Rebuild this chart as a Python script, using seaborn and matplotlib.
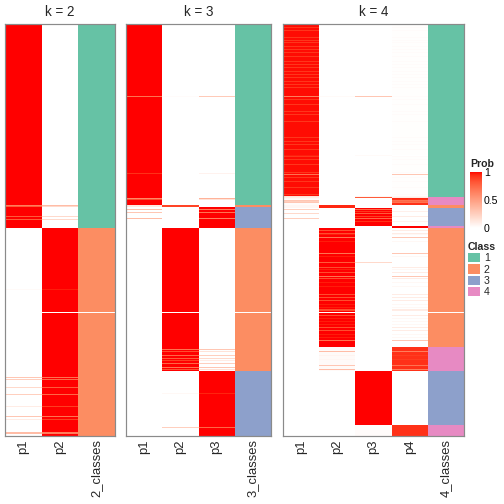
import numpy as np
import pandas as pd
import matplotlib
matplotlib.use("Agg")
import matplotlib.pyplot as plt
import seaborn as sns
from matplotlib.colors import ListedColormap
from matplotlib.patches import Patch

# ---------------- data ----------------
N_ROWS = 412
GAP_ROW = 288
k_values = [2, 3, 4]
class_labels = ["1", "2", "3", "4"]
class_colors = ["#66C2A5", "#FC8D62", "#8DA0CB", "#E78AC3"]

# runs: (rows, class, membership probabilities p1..pk)
k2_runs = [(204, 1, [1.0, 0.0]), (208, 2, [0.0, 1.0])]
k2_stripes = [(181, [0.65, 0.35]), (182, [0.8, 0.2]), (192, [0.8, 0.2]), (195, [0.8, 0.2]),
              (265, [0.03, 0.97]), (353, [0.3, 0.7]), (355, [0.25, 0.75]), (363, [0.2, 0.8]),
              (370, [0.25, 0.75]), (382, [0.1, 0.9]), (392, [0.3, 0.7]), (395, [0.1, 0.9]),
              (408, [0.35, 0.65]), (409, [0.35, 0.65])]

k3_runs = [(181, 1, [1.0, 0.0, 0.0]), (2, 2, [0.12, 0.88, 0.0]), (21, 3, [0.0, 0.0, 1.0]),
           (143, 2, [0.0, 1.0, 0.0]), (65, 3, [0.0, 0.0, 1.0])]
k3_stripes = [(72, [0.7, 0.02, 0.28]), (149, [0.93, 0.0, 0.07]), (174, [0.6, 0.0, 0.4]),
              (175, [0.85, 0.0, 0.15]), (185, [0.35, 0.0, 0.65]), (188, [0.3, 0.0, 0.7]),
              (194, [0.35, 0.0, 0.65]), (325, [0.0, 0.7, 0.3]), (327, [0.0, 0.85, 0.15]),
              (331, [0.0, 0.75, 0.25]), (334, [0.0, 0.8, 0.2]), (336, [0.0, 0.9, 0.1]),
              (339, [0.0, 0.75, 0.25]), (343, [0.0, 0.7, 0.3]), (345, [0.0, 0.85, 0.15]),
              (369, [0.0, 0.04, 0.96]), (403, [0.0, 0.25, 0.75])]

k4_runs = [(173, 1, [0.99, 0.0, 0.0, 0.01]), (8, 4, [0.02, 0.0, 0.0, 0.93]),
           (3, 2, [0.05, 0.95, 0.0, 0.0]), (18, 3, [0.0, 0.0, 1.0, 0.0]),
           (2, 4, [0.0, 0.0, 0.0, 1.0]), (119, 2, [0.0, 1.0, 0.0, 0.0]),
           (24, 4, [0.0, 0.03, 0.0, 0.93]), (54, 3, [0.0, 0.0, 1.0, 0.0]),
           (11, 4, [0.0, 0.0, 0.02, 0.93])]
k4_p1_soft_rows = [3, 6, 13, 16, 18, 22, 25, 28, 32, 37, 40, 43, 47, 50, 53, 57, 60, 63, 75,
                   80, 87, 90, 97, 113, 117, 120, 125, 132, 135, 140, 148, 153, 157, 163, 170]
k4_p1_soft = [0.92, 0.0, 0.0, 0.02]
k4_p2_soft_rows = [206, 209, 238, 243, 248, 254, 270, 273, 276, 285, 286, 291, 303, 306]
k4_p2_soft = [0.0, 0.85, 0.0, 0.1]
k4_p4_faint_rows = [210, 217, 232, 245, 258, 262, 280, 283, 294, 297, 300, 310, 313]
k4_p4_faint = [0.0, 0.97, 0.0, 0.04]
k4_stripes = [(72, [0.65, 0.03, 0.3, 0.02]), (131, [0.97, 0.0, 0.03, 0.0]),
              (150, [0.7, 0.0, 0.0, 0.3]), (172, [0.15, 0.0, 0.05, 0.05]),
              (173, [0.1, 0.0, 0.8, 0.1]), (174, [0.05, 0.0, 0.0, 0.95]),
              (176, [0.3, 0.0, 0.0, 0.7]), (177, [0.25, 0.0, 0.0, 0.75]),
              (178, [0.3, 0.0, 0.0, 0.7]), (185, [0.25, 0.0, 0.75, 0.0]),
              (187, [0.0, 0.0, 0.92, 0.08]), (189, [0.2, 0.0, 0.8, 0.0]),
              (192, [0.0, 0.0, 0.9, 0.1]), (194, [0.25, 0.0, 0.75, 0.0]),
              (197, [0.0, 0.0, 0.93, 0.07]), (213, [0.0, 0.7, 0.0, 0.3]),
              (229, [0.0, 0.7, 0.0, 0.3]), (238, [0.0, 0.8, 0.2, 0.0]),
              (252, [0.0, 0.7, 0.0, 0.3]), (316, [0.0, 0.7, 0.0, 0.3]),
              (327, [0.0, 0.35, 0.0, 0.65]), (331, [0.0, 0.06, 0.0, 0.9]),
              (335, [0.0, 0.05, 0.0, 0.9]), (341, [0.0, 0.3, 0.0, 0.7]),
              (345, [0.0, 0.35, 0.0, 0.65])]

panels = {
    2: dict(runs=k2_runs, stripes=k2_stripes, soft=[]),
    3: dict(runs=k3_runs, stripes=k3_stripes, soft=[]),
    4: dict(runs=k4_runs, stripes=k4_stripes,
            soft=[(k4_p1_soft_rows, k4_p1_soft), (k4_p2_soft_rows, k4_p2_soft),
                  (k4_p4_faint_rows, k4_p4_faint)]),
}


def build(runs, stripes, soft):
    probs, classes = [], []
    for n, cls, p in runs:
        probs += [list(p)] * n
        classes += [cls] * n
    probs = np.array(probs, dtype=float)
    classes = np.array(classes, dtype=float)
    for rows, vals in soft:
        for r in rows:
            probs[r] = vals
    for r, vals in stripes:
        probs[r] = vals
    probs[GAP_ROW] = np.nan
    classes[GAP_ROW] = np.nan
    return probs, classes


# white -> red interpolated in CIELAB (like colorRamp2)
def lab_to_rgb(L, a, b):
    fy = (L + 16) / 116
    fx = fy + a / 500
    fz = fy - b / 200
    def finv(t):
        return np.where(t > 6 / 29, t ** 3, 3 * (6 / 29) ** 2 * (t - 4 / 29))
    X, Y, Z = 0.95047 * finv(fx), finv(fy), 1.08883 * finv(fz)
    M = np.array([[3.2406, -1.5372, -0.4986], [-0.9689, 1.8758, 0.0415], [0.0557, -0.2040, 1.0570]])
    rgb = M @ np.vstack([X, Y, Z])
    rgb = np.where(rgb <= 0.0031308, 12.92 * rgb, 1.055 * np.clip(rgb, 0, None) ** (1 / 2.4) - 0.055)
    return np.clip(rgb.T, 0, 1)


t = np.linspace(0, 1, 256)
prob_cmap = ListedColormap(lab_to_rgb(100 - 46.76 * t, 80.09 * t, 67.20 * t))
class_cmap = ListedColormap(class_colors)

# ---------------- figure ----------------
sns.set_style("white")
plt.rcParams["font.family"] = ["Liberation Sans", "DejaVu Sans"]
W = H = 504
fig = plt.figure(figsize=(W / 72, H / 72), dpi=72)

boxes = {2: (5, 115), 3: (126, 271), 4: (283, 464)}
top, bottom = 24, 436
cbar_ax = fig.add_axes([470 / W, 1 - 228 / H, 12 / W, 56 / H])

for k in k_values:
    x0, x1 = boxes[k]
    ax = fig.add_axes([x0 / W, 1 - bottom / H, (x1 - x0) / W, (bottom - top) / H])
    probs, classes = build(**panels[k])
    cols = [f"p{i + 1}" for i in range(k)] + [f"{k}_classes"]
    prob_df = pd.DataFrame(np.column_stack([probs, np.full(N_ROWS, np.nan)]), columns=cols)
    cls_df = pd.DataFrame(np.column_stack([np.full((N_ROWS, k), np.nan), classes]), columns=cols)
    sns.heatmap(prob_df, ax=ax, cmap=prob_cmap, vmin=0, vmax=1, yticklabels=False,
                cbar=(k == 2), cbar_ax=cbar_ax if k == 2 else None)
    sns.heatmap(cls_df, ax=ax, cmap=class_cmap, vmin=0.5, vmax=4.5, yticklabels=False, cbar=False)
    ax.set_xticks(np.arange(k + 1) + 0.5)
    ax.set_xticklabels(cols, rotation=90, fontsize=13)
    ax.tick_params(axis="x", length=0, pad=3)
    ax.set_title(f"k = {k}", fontsize=13.5, pad=8)
    ax.set_ylabel("")
    for s in ax.spines.values():
        s.set_visible(True)
        s.set_color("#8a8a8a")
        s.set_linewidth(1.2)

# probability colorbar
cbar_ax.set_yticks([0, 0.5, 1])
cbar_ax.set_yticklabels(["0", "0.5", "1"])
cbar_ax.tick_params(axis="y", colors="white", labelcolor="black", direction="in",
                    length=3, width=1, labelsize=10.5, pad=2, left=True, right=True)
for s in cbar_ax.spines.values():
    s.set_visible(False)
fig.text(470 / W, 1 - 164 / H, "Prob", fontsize=10.5, fontweight="bold", ha="left", va="center")

# class legend
handles = [Patch(facecolor=c, edgecolor="none") for c in class_colors]
fig.legend(handles, class_labels, title="Class", loc="upper left",
           bbox_to_anchor=(468 / W, 1 - 242 / H), frameon=False, fontsize=10.5,
           title_fontproperties={"weight": "bold", "size": 10.5}, alignment="left",
           handlelength=1.1, handleheight=1.0, handletextpad=0.4, labelspacing=0.1,
           borderpad=0, borderaxespad=0)

fig.savefig("out.png", dpi=72)
